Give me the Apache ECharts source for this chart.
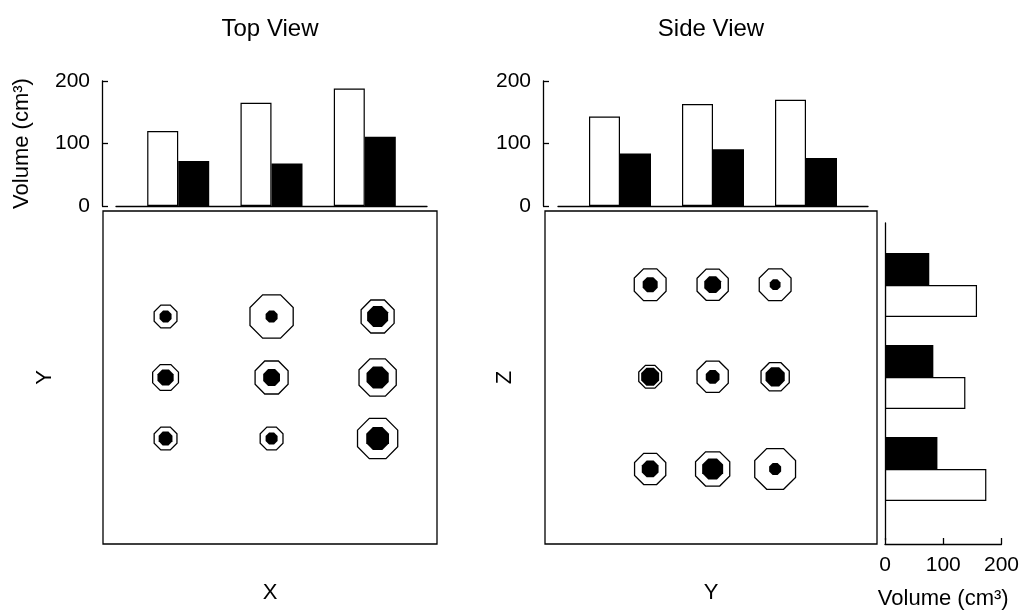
<!DOCTYPE html>
<html><head><meta charset="utf-8">
<script src="https://cdn.jsdelivr.net/npm/echarts@6/dist/echarts.min.js"></script>
<style>html,body{margin:0;padding:0;background:#fff}#c{width:1022px;height:616px}</style>
</head><body><div id="c"></div>
<script>
// ---- data ----
const barPositions = [1, 2, 3];
const topViewOuterBars = [120, 165, 188];
const topViewInnerBars = [72, 68, 111];
const sideViewOuterBarsY = [143, 163, 170];
const sideViewInnerBarsY = [84, 91, 77];
const sideViewRows = ['Z3', 'Z2', 'Z1'];
const sideViewOuterBarsZ = [158, 138, 174];
const sideViewInnerBarsZ = [76, 83, 90];
const volumeTicks = [0, 100, 200];
// marker grid positions (row 3 = top)
const gridCols = [1, 2, 3, 1, 2, 3, 1, 2, 3];
const gridRows = [3, 3, 3, 2, 2, 2, 1, 1, 1];
const topOuterVol = [38, 72, 55, 43, 55, 62, 38, 38, 67];
const topInnerVol = [20, 20, 35, 27, 28, 37, 23, 20, 38];
const sideOuterVol = [53, 52, 53, 38, 52, 47, 52, 57, 68];
const sideInnerVol = [25, 28, 18, 30, 23, 32, 28, 35, 20];

// ---- build ----
const FONT = "'Liberation Sans', Arial, Helvetica, sans-serif";
const FS = 22;
const TFS = 21;
const TITLE_FS = 24;
const OCT = 'path://M29.29,0L70.71,0L100,29.29L100,70.71L70.71,100L29.29,100L0,70.71L0,29.29Z';
const PX_PER_VOL = 0.6;
const pts = (vols) => vols.map((v, i) => [gridCols[i], gridRows[i], v]);
const pairs = (vals) => vals.map((v, i) => [barPositions[i], v]);
const lineS = { color: '#000', width: 1.3 };
const hidden = { axisLine: { show: false }, axisTick: { show: false }, axisLabel: { show: false }, splitLine: { show: false } };
const nameStyle = { fontFamily: FONT, fontSize: FS, color: '#000' };
const tickLabel = { show: true, fontSize: TFS, color: '#000', fontFamily: FONT };

const chart = echarts.init(document.getElementById('c'), null, { renderer: 'canvas' });
chart.setOption({
  animation: false,
  backgroundColor: '#fff',
  textStyle: { fontFamily: FONT },
  grid: [
    { left: 116, top: 81, width: 311, height: 125 },
    { left: 558, top: 81, width: 310, height: 125 },
    { left: 103, top: 211, width: 334, height: 333, show: true, borderColor: '#000', borderWidth: 1.3 },
    { left: 545, top: 211, width: 332, height: 333, show: true, borderColor: '#000', borderWidth: 1.3 },
    { left: 885, top: 239, width: 125, height: 276 },
    { left: 885, top: 223, width: 1, height: 317 }
  ],
  xAxis: [
    Object.assign({ gridIndex: 0, type: 'value', min: 1 / 3, max: 11 / 3 }, hidden, { axisLine: { show: true, onZero: false, lineStyle: lineS } }),
    Object.assign({ gridIndex: 1, type: 'value', min: 1 / 3, max: 11 / 3 }, hidden, { axisLine: { show: true, onZero: false, lineStyle: lineS } }),
    Object.assign({ gridIndex: 2, type: 'value', min: 0.41, max: 3.56, name: 'X', nameLocation: 'middle', nameGap: 38, nameTextStyle: nameStyle }, hidden),
    Object.assign({ gridIndex: 3, type: 'value', min: -0.683, max: 4.63, name: 'Y', nameLocation: 'middle', nameGap: 38, nameTextStyle: nameStyle }, hidden),
    { gridIndex: 4, type: 'value', min: volumeTicks[0], max: volumeTicks[2], interval: volumeTicks[1], offset: 29,
      axisLine: { show: true, onZero: false, lineStyle: lineS },
      axisTick: { show: true, inside: true, length: 6, lineStyle: lineS },
      axisLabel: Object.assign({ margin: 11 }, tickLabel),
      splitLine: { show: false },
      name: 'Volume (cm³)', nameLocation: 'middle', nameGap: 44, nameTextStyle: nameStyle },
    Object.assign({ gridIndex: 5, type: 'value', show: false }, hidden)
  ],
  yAxis: [
    { gridIndex: 0, type: 'value', min: volumeTicks[0], max: volumeTicks[2], interval: volumeTicks[1], offset: 14,
      axisLine: { show: true, lineStyle: lineS },
      axisTick: { show: true, inside: true, length: 6, lineStyle: lineS },
      axisLabel: Object.assign({ margin: 12 }, tickLabel),
      splitLine: { show: false },
      name: 'Volume (cm³)', nameLocation: 'middle', nameGap: 69, nameRotate: 90, nameTextStyle: nameStyle },
    { gridIndex: 1, type: 'value', min: volumeTicks[0], max: volumeTicks[2], interval: volumeTicks[1], offset: 15,
      axisLine: { show: true, lineStyle: lineS },
      axisTick: { show: true, inside: true, length: 6, lineStyle: lineS },
      axisLabel: Object.assign({ margin: 12 }, tickLabel),
      splitLine: { show: false } },
    Object.assign({ gridIndex: 2, type: 'value', min: -0.73, max: 4.73, name: 'Y', nameLocation: 'middle', nameGap: 47, nameRotate: 90, nameTextStyle: nameStyle }, hidden),
    Object.assign({ gridIndex: 3, type: 'value', min: 0.185, max: 3.8, name: 'Z', nameLocation: 'middle', nameGap: 29, nameRotate: 90, nameTextStyle: nameStyle }, hidden),
    Object.assign({ gridIndex: 4, type: 'category', inverse: true, data: sideViewRows }, hidden),
    Object.assign({ gridIndex: 5, type: 'value', min: 0, max: 1 }, hidden, { axisLine: { show: true, lineStyle: lineS } })
  ],
  series: [
    { type: 'bar', xAxisIndex: 0, yAxisIndex: 0, data: pairs(topViewOuterBars), barWidth: 31, barGap: '0%',
      itemStyle: { color: '#fff', borderColor: '#000', borderWidth: 1.2 } },
    { type: 'bar', xAxisIndex: 0, yAxisIndex: 0, data: pairs(topViewInnerBars), barWidth: 31, barGap: '0%',
      itemStyle: { color: '#000' } },
    { type: 'bar', xAxisIndex: 1, yAxisIndex: 1, data: pairs(sideViewOuterBarsY), barWidth: 31, barGap: '0%',
      itemStyle: { color: '#fff', borderColor: '#000', borderWidth: 1.2 } },
    { type: 'bar', xAxisIndex: 1, yAxisIndex: 1, data: pairs(sideViewInnerBarsY), barWidth: 31, barGap: '0%',
      itemStyle: { color: '#000' } },
    { type: 'bar', xAxisIndex: 4, yAxisIndex: 4, data: sideViewInnerBarsZ, barWidth: 32, barGap: '0%',
      itemStyle: { color: '#000' } },
    { type: 'bar', xAxisIndex: 4, yAxisIndex: 4, data: sideViewOuterBarsZ, barWidth: 32, barGap: '0%',
      itemStyle: { color: '#fff', borderColor: '#000', borderWidth: 1.2 } },
    { type: 'scatter', xAxisIndex: 2, yAxisIndex: 2, data: pts(topOuterVol), symbol: OCT,
      symbolSize: (d) => d[2] * PX_PER_VOL, itemStyle: { color: '#fff', borderColor: '#000', borderWidth: 1.3, opacity: 1 }, z: 2 },
    { type: 'scatter', xAxisIndex: 2, yAxisIndex: 2, data: pts(topInnerVol), symbol: OCT,
      symbolSize: (d) => d[2] * PX_PER_VOL, itemStyle: { color: '#000', opacity: 1 }, z: 3 },
    { type: 'scatter', xAxisIndex: 3, yAxisIndex: 3, data: pts(sideOuterVol), symbol: OCT,
      symbolSize: (d) => d[2] * PX_PER_VOL, itemStyle: { color: '#fff', borderColor: '#000', borderWidth: 1.3, opacity: 1 }, z: 2 },
    { type: 'scatter', xAxisIndex: 3, yAxisIndex: 3, data: pts(sideInnerVol), symbol: OCT,
      symbolSize: (d) => d[2] * PX_PER_VOL, itemStyle: { color: '#000', opacity: 1 }, z: 3 }
  ],
  graphic: [
    { type: 'text', x: 270, y: 29, style: { text: 'Top View', textAlign: 'center', textVerticalAlign: 'middle', font: TITLE_FS + 'px ' + FONT, fill: '#000' } },
    { type: 'text', x: 711, y: 29, style: { text: 'Side View', textAlign: 'center', textVerticalAlign: 'middle', font: TITLE_FS + 'px ' + FONT, fill: '#000' } }
  ]
});
</script></body></html>
